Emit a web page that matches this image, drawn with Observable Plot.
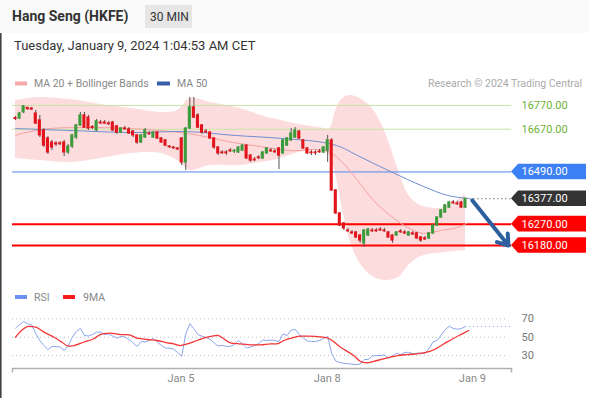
<!DOCTYPE html>
<html><head><meta charset="utf-8">
<script src="https://cdn.jsdelivr.net/npm/d3@7"></script>
<script src="https://cdn.jsdelivr.net/npm/@observablehq/plot@0.6"></script>
<style>
html,body{margin:0;padding:0;background:#fff;}
#wrap{position:relative;width:589px;height:398px;overflow:hidden;font-family:Roboto,"Liberation Sans",Arial,sans-serif;}
.abs{position:absolute;left:0;}
</style></head><body>
<div id="wrap">
  <svg class="abs" style="top:0" width="589" height="398">
    <rect x="0" y="0" width="589" height="33" fill="#fafafa"/>
    <rect x="0" y="33" width="1.6" height="365" fill="#444"/>
    <text x="12" y="21" font-size="14" font-weight="bold" fill="#333">Hang Seng (HKFE)</text>
    <rect x="145" y="5" width="47" height="23" fill="#e6e6e6"/>
    <text x="150" y="21" font-size="12" fill="#333">30 MIN</text>
    <text x="14" y="49.5" font-size="13" fill="#333">Tuesday, January 9, 2024 1:04:53 AM CET</text>
    <rect x="15" y="81.5" width="12" height="4" fill="#f8a8a8"/>
    <text x="34" y="87" font-size="10.5" fill="#888">MA 20 + Bollinger Bands</text>
    <rect x="157" y="81.5" width="13" height="4" fill="#3760a8"/>
    <text x="177" y="87" font-size="10.5" fill="#888">MA 50</text>
    <text x="582" y="87" font-size="10.5" fill="#aaa" text-anchor="end">Research © 2024 Trading Central</text>
    <rect x="15" y="295" width="12" height="4" fill="#6d8ff0"/>
    <text x="34" y="301" font-size="10.5" fill="#888">RSI</text>
    <rect x="63" y="295" width="12" height="4" fill="#ff1a1a"/>
    <text x="83" y="301" font-size="10.5" fill="#888">9MA</text>
  </svg>
  <div id="main" class="abs" style="top:90px"></div>
  <div id="rsi" class="abs" style="top:305px"></div>
</div>
<script>
// ---------- data ----------
const candleOpen = [16717,16715,16741,16760,16757,16736,16707,16665,16631,16614, 16610,16610,16614,16572,16597,16635,16686,16728,16719,16679, 16665,16698,16698,16694,16698,16682,16656,16673,16669,16660, 16644,16614,16635,16652,16635,16656,16631,16623,16597,16593, 16589,16631,16530,16673,16762,16728,16686,16660,16656,16631, 16593,16572,16572,16580,16576,16572,16580,16601,16559,16542, 16551,16547,16568,16580,16576,16589,16568,16601,16623,16635, 16660,16623,16589,16572,16572,16576,16572,16580,16623,16412, 16315,16273,16243,16235,16235,16222,16189,16222,16243,16243, 16247,16243,16235,16222,16222,16239,16235,16222,16231,16231, 16214,16210,16210,16231,16264,16298,16319,16340,16361,16357, 16361,16340];
const candleHigh = [16724,16741,16770,16762,16762,16749,16728,16673,16639,16623, 16618,16618,16623,16606,16648,16690,16741,16741,16728,16686, 16711,16707,16707,16703,16703,16686,16677,16682,16677,16665, 16648,16648,16673,16660,16660,16660,16635,16627,16601,16597, 16593,16635,16677,16804,16804,16736,16690,16669,16660,16635, 16597,16580,16580,16589,16585,16597,16606,16606,16564,16551, 16559,16576,16593,16589,16585,16593,16627,16635,16673,16677, 16665,16627,16593,16580,16580,16585,16597,16644,16631,16416, 16319,16277,16252,16243,16239,16226,16247,16252,16252,16252, 16256,16252,16239,16226,16239,16247,16243,16239,16239,16235, 16218,16218,16235,16268,16302,16332,16353,16366,16370,16366, 16366,16378];
const candleLow = [16707,16711,16736,16749,16749,16690,16635,16593,16564,16580, 16597,16601,16555,16564,16589,16627,16682,16673,16665,16669, 16660,16690,16690,16686,16660,16648,16652,16665,16648,16635, 16606,16610,16631,16644,16631,16627,16610,16597,16589,16585, 16580,16517,16496,16669,16715,16673,16648,16652,16627,16585, 16559,16564,16559,16572,16568,16568,16576,16542,16530,16534, 16542,16542,16564,16572,16568,16500,16564,16597,16618,16631, 16627,16585,16564,16559,16559,16568,16568,16530,16408,16311, 16260,16243,16235,16226,16210,16189,16172,16218,16235,16235, 16239,16235,16210,16189,16218,16231,16226,16218,16222,16205, 16193,16201,16205,16226,16260,16294,16315,16336,16353,16349, 16336,16336];
const candleClose = [16713,16736,16766,16755,16753,16694,16644,16601,16572,16593, 16606,16607,16572,16597,16644,16686,16728,16677,16673,16675, 16703,16695,16694,16691,16665,16656,16673,16670,16652,16644, 16614,16644,16665,16649,16656,16631,16614,16601,16594,16590, 16585,16530,16673,16762,16719,16677,16656,16657,16631,16593, 16568,16569,16569,16577,16579,16593,16601,16547,16538,16539, 16548,16572,16589,16577,16573,16559,16623,16631,16652,16665, 16631,16589,16568,16569,16569,16573,16593,16623,16412,16315, 16264,16252,16240,16231,16214,16201,16243,16247,16240,16240, 16244,16240,16214,16201,16235,16236,16231,16235,16227,16210, 16201,16206,16231,16264,16298,16328,16349,16361,16358,16354, 16340,16377];

const bandIdx   = [0,6,13.5,21,28.5,36,40,43,48,55.5,60.5,65.5,70,75,77.5,79,80.5,82.5,85,88,91,94.5,97,100,106,111];
const bandUpper = [16791,16804,16795,16774,16757,16740,16749,16799,16783,16757,16728,16707,16690,16677,16673,16749,16795,16812,16799,16757,16665,16496,16391,16349,16340,16395];
const bandLower = [16547,16538,16530,16547,16568,16568,16538,16496,16517,16517,16530,16547,16572,16580,16559,16475,16349,16201,16104,16049,16033,16045,16096,16134,16151,16159];

const ma20Idx = [0,2.5,8.6,16,28.4,42.4,53.8,60.4,67.8,76.5,80.2,84.4,88.3,92.5,96.7,100.6,104.8,109,111.7];
const ma20Val = [16644,16656,16673,16677,16673,16652,16614,16597,16580,16580,16538,16454,16370,16306,16256,16231,16243,16256,16277];
const ma50Idx = [0,12.8,29,42.4,54,66,76,80.2,84.4,92.5,100.6,106.6,111.7];
const ma50Val = [16673,16665,16656,16660,16644,16631,16614,16595,16559,16492,16429,16391,16378];

const levelValues = [16770, 16670, 16490, 16377, 16270, 16180];
const levelKinds  = ["resistance","resistance","pivot","last","support","support"];
const targetLevel = 16180;

const rsiValues = [59.8,63.8,67.1,64.6,63.3,54.0,46.4,41.0,36.6,39.9, 39.9,39.3,35.5,41.0,49.7,56.2,59.5,51.9,51.3,52.9, 55.5,55.5,52.9,53.5,51.3,49.1,50.8,50.2,47.5,43.7, 39.9,45.3,44.8,46.4,48.6,44.5,41.0,38.2,38.0,36.9, 33.3,29.3,53.7,64.6,59.2,52.9,51.1,49.7,47.5,43.7, 40.4,41.0,40.1,39.9,42.0,46.4,42.6,38.2,39.3,41.0, 43.1,46.9,46.4,46.9,46.4,45.3,53.5,51.9,57.9,58.4, 52.9,49.1,45.9,45.3,45.3,46.4,48.6,50.8,32.2,24.0, 22.4,21.6,21.1,20.6,20.0,20.8,25.7,25.7,29.5,30.0, 30.0,30.6,27.3,29.5,32.6,31.1,33.3,33.6,31.9,32.6, 32.6,32.2,37.7,44.8,46.4,52.4,58.4,61.9,59.5,58.7, 59.5,61.7];
const rsiMaIdx = [0,2,3.3,5,7,9.5,11.5,13,14.4,16.8,19.3,21.4,23.4,25.9,28,30,32.5,35,37.4,39,40.7,42.4,44.8,47.3,49.8,51.4,53,55.5,58,60.4,62.9,64.5,66.2,68.3,70.3,72,74,76.9,80.2,83.4,85.5,86.8,89.2,92.5,94.2,96.6,99,101.5,103.2,105.7,108.1,110.2,111.8];
const rsiMaVal = [50.0,59.2,61.7,60.9,55.5,50.0,44.5,40.2,40.9,44.5,48.3,53.7,54.4,52.9,52.6,48.9,47.5,46.4,43.9,42.8,40.9,42.8,46.4,50.0,51.9,48.3,43.9,42.8,41.7,41.7,42.8,42.8,46.4,49.3,51.1,51.1,50.8,49.3,39.1,30.0,22.7,22.1,24.6,28.2,30.0,31.1,31.9,33.6,36.3,42.8,48.9,53.7,57.3];
const rsiLevels = [70, 50, 30];

const tickIdx = [40.8, 76.9, 112.7];
const tickLabels = ["Jan 5", "Jan 8", "Jan 9"];

// ---------- layout ----------
const W = 589, ML = 12, MR = 78;
const xDomain = [-0.74, 122.35];
const mainH = 200, mainDomain = [15990.4, 16833.2];
const rsiH = 85, rsiMB = 22, rsiDomain = [15.87, 84.57];
const idxPerPx = (xDomain[1] - xDomain[0]) / (W - ML - MR);
const pxToIdx = px => xDomain[0] + (px - ML) * idxPerPx;
const pricePerPx = (mainDomain[1] - mainDomain[0]) / mainH;
const rsiPerPx = (rsiDomain[1] - rsiDomain[0]) / (rsiH - rsiMB);

const candles = candleOpen.map((o, i) => ({i, o, h: candleHigh[i], l: candleLow[i], c: candleClose[i]}));
const band = bandIdx.map((i, k) => ({i, hi: bandUpper[k], lo: bandLower[k]}));
const ma20 = ma20Idx.map((i, k) => ({i, v: ma20Val[k]}));
const ma50 = ma50Idx.map((i, k) => ({i, v: ma50Val[k]}));
const rsi = rsiValues.map((v, i) => ({i, v}));
const rsiMa = rsiMaIdx.map((i, k) => ({i, v: rsiMaVal[k]}));
const last = candles[candles.length - 1];

const styleOf = {
  resistance: {line: "#c7e4a8", width: 1, box: null, text: "#6fb13a"},
  pivot: {line: "#4f86ee", width: 1, box: "#3d7ff5", text: "#fff"},
  last: {line: null, width: 0, box: "#333333", text: "#fff"},
  support: {line: "#ff0000", width: 2, box: "#ff0000", text: "#fff"}
};
const levels = levelValues.map((v, k) => ({v, kind: levelKinds[k], ...styleOf[levelKinds[k]]}));

const tipX = pxToIdx(511), bodyX = pxToIdx(518), rightX = pxToIdx(586), textX = pxToIdx(521);
const tagMarks = levels.filter(d => d.box).map(d => {
  const hh = 7.8 * pricePerPx;
  const pts = [{x: tipX, y1: d.v, y2: d.v}, {x: bodyX, y1: d.v - hh, y2: d.v + hh}, {x: rightX, y1: d.v - hh, y2: d.v + hh}];
  return Plot.areaY(pts, {x: "x", y1: "y1", y2: "y2", fill: d.box});
});

const fmt = d3.format(".2f");
const up = d => d.c >= d.o;

const main = Plot.plot({
  width: W, height: mainH,
  marginLeft: ML, marginRight: MR, marginTop: 0, marginBottom: 0,
  x: {domain: xDomain, axis: null},
  y: {domain: mainDomain, axis: null},
  style: {background: "transparent", fontFamily: "Roboto, 'Liberation Sans', Arial, sans-serif"},
  marks: [
    Plot.areaY(band, {x: "i", y1: "lo", y2: "hi", fill: "#fcdcdc", curve: "catmull-rom"}),
    Plot.ruleY(levels.filter(d => d.line), {y: "v", stroke: "line", strokeWidth: "width"}),
    Plot.line(ma20, {x: "i", y: "v", stroke: "#f5a0a0", strokeWidth: 1, curve: "catmull-rom"}),
    Plot.line(ma50, {x: "i", y: "v", stroke: "#6e8fd0", strokeWidth: 1, curve: "catmull-rom"}),
    Plot.ruleX(candles, {x: "i", y1: "l", y2: "h", stroke: "#555", strokeWidth: 1}),
    Plot.rect(candles, {
      x1: d => d.i - 0.38, x2: d => d.i + 0.38, y1: "o", y2: "c",
      fill: d => up(d) ? "#3c9c3c" : "#e3141b", insetTop: -0.6, insetBottom: -0.6
    }),
    Plot.ruleY([last.c], {x1: last.i + 1, x2: tipX, stroke: "#777", strokeDasharray: "1.5,2.5"}),
    ...tagMarks,
    Plot.text(levels, {x: textX, y: "v", text: d => fmt(d.v), fill: "text", textAnchor: "start", fontSize: 11}),
    Plot.arrow([{x1: last.i + 1.7, y1: last.c - 7, x2: pxToIdx(508), y2: targetLevel}], {
      x1: "x1", y1: "y1", x2: "x2", y2: "y2", stroke: "#2d5f9f", strokeWidth: 4, headLength: 4.5, headAngle: 70
    })
  ]
});
document.getElementById("main").appendChild(main);

const rsiPlot = Plot.plot({
  width: W, height: rsiH,
  marginLeft: ML, marginRight: MR, marginTop: 0, marginBottom: rsiMB,
  x: {domain: xDomain, axis: null},
  y: {domain: rsiDomain, axis: null},
  style: {background: "transparent", fontFamily: "Roboto, 'Liberation Sans', Arial, sans-serif", overflow: "visible"},
  marks: [
    Plot.ruleY(rsiLevels, {x1: xDomain[0], x2: pxToIdx(508), stroke: "#bbb", strokeDasharray: "1,3"}),
    Plot.ruleY([rsi[rsi.length - 1].v], {x1: last.i, x2: pxToIdx(510), stroke: "#8aa6ee", strokeDasharray: "1,3"}),
    Plot.line(rsi, {x: "i", y: "v", stroke: "#8aa6ee", strokeWidth: 1}),
    Plot.line(rsiMa, {x: "i", y: "v", stroke: "#f43333", strokeWidth: 1.3, curve: "monotone-x"}),
    Plot.text(rsiLevels, {x: textX, y: d => d, text: d => String(d), textAnchor: "start", fill: "#777", fontSize: 11}),
    Plot.ruleY([rsiDomain[0]], {stroke: "#b0b0b0", strokeWidth: 1.5}),
    Plot.ruleX(xDomain, {y1: rsiDomain[0], y2: rsiDomain[0] - 4.5 * rsiPerPx, stroke: "#b0b0b0", strokeWidth: 1.5}),
    Plot.text(tickIdx, {x: d => d, frameAnchor: "bottom", dy: 13, text: (d, k) => tickLabels[k], fill: "#888", fontSize: 11})
  ]
});
document.getElementById("rsi").appendChild(rsiPlot);
</script>
</body></html>
